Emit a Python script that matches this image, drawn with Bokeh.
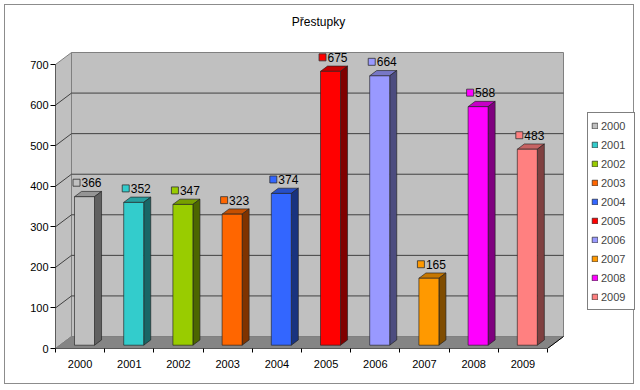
from bokeh.plotting import figure
from bokeh.models import Range1d, FixedTicker, ColumnDataSource, Legend, LegendItem
from bokeh.embed import file_html
from bokeh.resources import INLINE
from bokeh.core.properties import value

# ---------------- data ----------------
title_text = "Přestupky"
years = ["2000", "2001", "2002", "2003", "2004", "2005", "2006", "2007", "2008", "2009"]
counts = [366, 352, 347, 323, 374, 675, 664, 165, 588, 483]
colors = ["#C0C0C0", "#33CCCC", "#99CC00", "#FF6600", "#3366FF",
          "#FF0000", "#9999FF", "#FF9900", "#FF00FF", "#FF8080"]
y_ticks = [0, 100, 200, 300, 400, 500, 600, 700]
y_max = 700

# ---------------- geometry / style constants ----------------
W, H = 630, 380
LEFT, BOTTOM = 50, 37            # frame borders (px)
PX_X = 49.2                      # px per category
PX_Y = 0.4057                    # px per value unit
DEPTH_PX_X, DEPTH_PX_Y = 16, 12  # 3D depth offset (px)
DX = DEPTH_PX_X / PX_X
DY = DEPTH_PX_Y / PX_Y
BAR_W = 20 / PX_X
F0 = 0.275                       # bar front position in depth
FD = 0.44                        # bar depth fraction
FONT = "Liberation Sans"
n = len(years)


def shade(hexcol, f):
    h = hexcol.lstrip("#")
    r, g, b = (int(h[i:i + 2], 16) for i in (0, 2, 4))
    return "#%02x%02x%02x" % (int(r * f), int(g * f), int(b * f))


p = figure(width=W, height=H,
           x_range=Range1d(0, (W - LEFT) / PX_X),
           y_range=Range1d(0, (H - BOTTOM) / PX_Y),
           min_border_left=LEFT, min_border_right=0,
           min_border_top=0, min_border_bottom=BOTTOM,
           output_backend="svg", toolbar_location=None)
p.styles = {"border": "1px solid #8c8c8c", "margin": "4px"}
p.outline_line_color = None
p.grid.visible = False
p.background_fill_color = "white"
p.border_fill_color = "white"

# ---------------- walls and floor ----------------
wall_line = "#808080"
p.patch([0, DX, DX, 0], [0, DY, y_max + DY, y_max],
        fill_color="#C0C0C0", line_color=wall_line, line_width=1)
p.patch([DX, n + DX, n + DX, DX], [DY, DY, y_max + DY, y_max + DY],
        fill_color="#C0C0C0", line_color=wall_line, line_width=1)
p.patch([0, n, n + DX, DX], [0, 0, DY, DY],
        fill_color="#858585", line_color=wall_line, line_width=1)

# gridlines on side and back walls
grid_vals = [t for t in y_ticks if 0 < t < y_max]
p.segment(x0=[0] * len(grid_vals), y0=grid_vals,
          x1=[DX] * len(grid_vals), y1=[v + DY for v in grid_vals],
          line_color="#404040", line_width=1)
p.segment(x0=[DX] * len(grid_vals), y0=[v + DY for v in grid_vals],
          x1=[n + DX] * len(grid_vals), y1=[v + DY for v in grid_vals],
          line_color="#404040", line_width=1)

# front axis lines
p.segment(x0=[0, 0, n], y0=[0, 0, 0], x1=[0, n, n + DX], y1=[y_max, 0, DY],
          line_color="black", line_width=1)

# ---------------- bars ----------------
left = [i + 0.5 - BAR_W / 2 + F0 * DX for i in range(n)]
right = [l + BAR_W for l in left]
bottom = [F0 * DY] * n
top = [v + F0 * DY for v in counts]
bdx, bdy = FD * DX, FD * DY

front_src = ColumnDataSource(dict(left=left, right=right, bottom=bottom, top=top,
                                  color=colors, year=years))
top_xs = [[l, r, r + bdx, l + bdx] for l, r in zip(left, right)]
top_ys = [[t, t, t + bdy, t + bdy] for t in top]
side_xs = [[r, r + bdx, r + bdx, r] for r in right]
side_ys = [[b, b + bdy, t + bdy, t] for b, t in zip(bottom, top)]

p.patches(top_xs, top_ys, fill_color=[shade(c, 0.78) for c in colors],
          line_color="#202020", line_alpha=0.8, line_width=0.8)
p.patches(side_xs, side_ys, fill_color=[shade(c, 0.5) for c in colors],
          line_color="#202020", line_alpha=0.8, line_width=0.8)
front = p.quad(left="left", right="right", bottom="bottom", top="top",
               fill_color="color", line_color="#202020", line_alpha=0.8,
               line_width=0.8, source=front_src)

# ---------------- data labels ----------------
centers = [l + (BAR_W + bdx) / 2 for l in left]
label_y = [t + 14 / PX_Y for t in top]
p.scatter(x=[c - 11.5 / PX_X for c in centers], y=label_y, marker="square",
          size=7, fill_color=colors, line_color="#303030", line_width=0.8)
p.text(x=centers, y=label_y, text=[str(v) for v in counts], x_offset=-6.5,
       text_align="left", text_baseline="middle", text_color="black",
       text_font=value(FONT), text_font_size="12px")

# ---------------- title ----------------
p.text(x=[(313 - LEFT) / PX_X], y=[(H - BOTTOM - 16) / PX_Y], text=[title_text],
       text_align="center", text_baseline="middle", text_color="black",
       text_font=value(FONT), text_font_size="12px")

# ---------------- axes ----------------
p.yaxis.ticker = FixedTicker(ticks=y_ticks)
p.yaxis.axis_line_color = None
p.yaxis.major_tick_out = 5
p.yaxis.major_tick_in = 0
p.yaxis.minor_tick_line_color = None
p.yaxis.major_label_standoff = 2
p.yaxis.major_label_text_font = FONT
p.yaxis.major_label_text_font_size = "11px"
p.yaxis.major_label_text_color = "black"

centers_x = [i + 0.5 for i in range(n)]
p.xaxis.ticker = FixedTicker(ticks=centers_x, minor_ticks=list(range(n + 1)))
p.xaxis.major_label_overrides = {c: y for c, y in zip(centers_x, years)}
p.xaxis.axis_line_color = None
p.xaxis.major_tick_line_color = None
p.xaxis.major_tick_out = 0
p.xaxis.major_tick_in = 0
p.xaxis.minor_tick_out = 4
p.xaxis.minor_tick_in = 0
p.xaxis.minor_tick_line_color = "black"
p.xaxis.major_label_standoff = 7
p.xaxis.major_label_text_font = FONT
p.xaxis.major_label_text_font_size = "11px"
p.xaxis.major_label_text_color = "black"

# ---------------- legend ----------------
items = [LegendItem(label=years[i], renderers=[front], index=i) for i in range(n)]
legend = Legend(items=items, location=(532, 38),
                glyph_width=7, glyph_height=7, label_standoff=3,
                padding=3, spacing=0, label_height=19, label_width=30, margin=0,
                label_text_font=FONT, label_text_font_size="11px",
                border_line_color="black", border_line_width=1,
                background_fill_color="white", background_fill_alpha=1.0)
p.add_layout(legend)

open("out.html", "w").write(file_html(p, INLINE))
